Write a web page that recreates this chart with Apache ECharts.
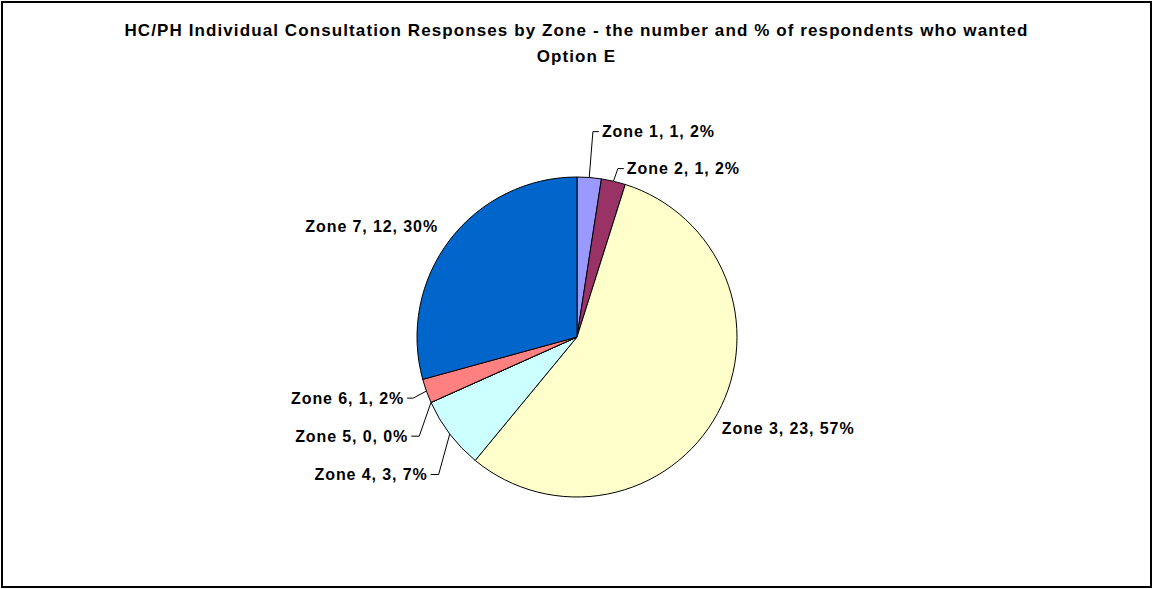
<!DOCTYPE html>
<html>
<head>
<meta charset="utf-8">
<script src="https://cdn.jsdelivr.net/npm/echarts@6/dist/echarts.min.js"></script>
<style>
html,body{margin:0;padding:0;background:#fff;}
#chart{width:1153px;height:589px;}
#chart svg text[style*="17px"]{letter-spacing:1.1px;}
#chart svg text[style*="16px"]{letter-spacing:0.9px;}
</style>
</head>
<body>
<div id="chart"></div>
<script>
const titleLines = ['HC/PH Individual Consultation Responses by Zone - the number and % of respondents who wanted', 'Option E'];
const zones = ['Zone 1', 'Zone 2', 'Zone 3', 'Zone 4', 'Zone 5', 'Zone 6', 'Zone 7'];
const counts = [1, 1, 23, 3, 0, 1, 12];
const percentLabels = ['2%', '2%', '57%', '7%', '0%', '2%', '30%'];
const colors = ['#9999FF', '#993366', '#FFFFCC', '#CCFFFF', '#660066', '#FF8080', '#0066CC'];

// label layout tweaks per slice (layout only, not data)
const lineLen = [48, 15, 6, 14, 14, 12, 16];
const lineLen2 = [6, 6, 0, 8, 8, 6, 0];
const showLine = [true, true, false, true, true, true, false];
const labelDx = [0, 1, -4, 0, 1, -2, 4];
const labelDy = [2, 2, 12, 32, 28, 3, -4];

const chart = echarts.init(document.getElementById('chart'), null, {renderer: 'svg'});
const font = 'Liberation Sans, Arial, sans-serif';

const data = zones.map((z, i) => ({
  name: z,
  value: counts[i],
  itemStyle: {color: colors[i]},
  labelLine: {show: showLine[i], length: lineLen[i], length2: lineLen2[i]}
}));

chart.setOption({
  animation: false,
  backgroundColor: '#fff',
  graphic: [{
    type: 'rect',
    shape: {x: 2, y: 2, width: 1149, height: 585},
    style: {fill: 'none', stroke: '#000', lineWidth: 2},
    silent: true
  }],
  title: {
    text: titleLines.join('\n'),
    left: 'center',
    top: 12,
    textStyle: {fontFamily: font, fontSize: 17, fontWeight: 'bold', color: '#000', lineHeight: 26}
  },
  series: [{
    type: 'pie',
    center: [577, 337],
    radius: 160,
    startAngle: 90,
    clockwise: true,
    avoidLabelOverlap: false,
    minAngle: 0.01,
    minShowLabelAngle: 0,
    itemStyle: {borderColor: '#000', borderWidth: 1},
    label: {
      show: true,
      position: 'outside',
      formatter: p => p.name + ', ' + counts[p.dataIndex] + ', ' + percentLabels[p.dataIndex],
      fontFamily: font,
      fontSize: 16,
      fontWeight: 'bold',
      color: '#000',
      distanceToLabelLine: 3
    },
    labelLine: {lineStyle: {color: '#000', width: 1}},
    labelLayout: function (params) {
      const i = params.dataIndex;
      const r = params.labelRect;
      const right = params.align === 'right';
      const ax = (right ? r.x + r.width : r.x) + labelDx[i];
      const ay = r.y + r.height / 2 + labelDy[i];
      const out = {x: ax, y: ay, align: params.align, verticalAlign: 'middle'};
      if (showLine[i] && params.labelLinePoints) {
        const p0 = params.labelLinePoints[0];
        const p2x = right ? ax + 3 : ax - 3;
        const p1x = right ? p2x + lineLen2[i] : p2x - lineLen2[i];
        out.labelLinePoints = [[p0[0], p0[1]], [p1x, ay], [p2x, ay]];
      }
      return out;
    },
    emphasis: {disabled: true},
    data: data
  }]
});
</script>
</body>
</html>
